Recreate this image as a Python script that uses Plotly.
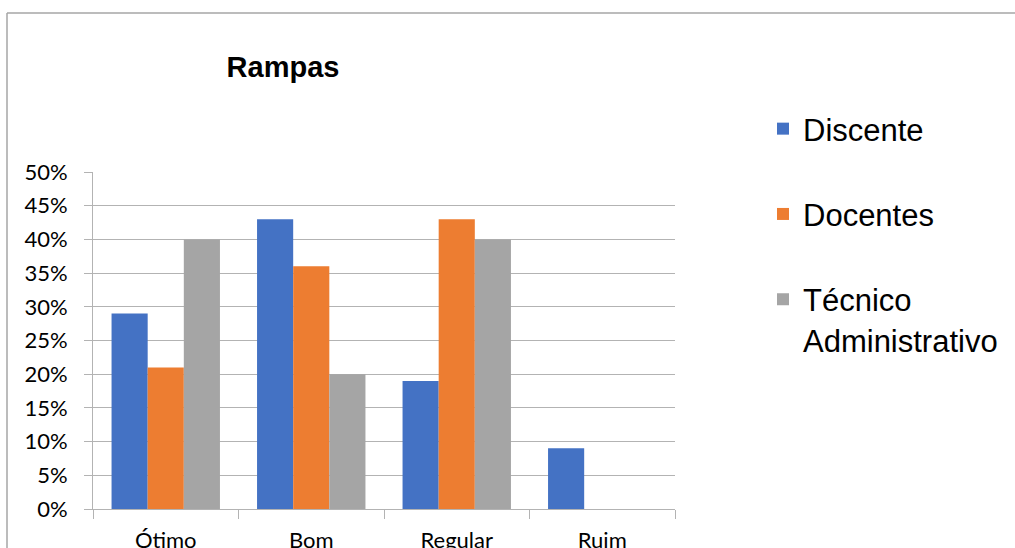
import plotly.graph_objects as go

categories = ['Ótimo', 'Bom', 'Regular', 'Ruim']
discente = [0.29, 0.43, 0.19, 0.09]
docentes = [0.21, 0.36, 0.43, 0.0]
tecnico = [0.40, 0.20, 0.40, 0.0]

series = [
    ('Discente', discente, '#4472C4'),
    ('Docentes', docentes, '#ED7D31'),
    ('Técnico<br>Administrativo', tecnico, '#A5A5A5'),
]

fig = go.Figure()
for i, (name, vals, color) in enumerate(series):
    fig.add_trace(go.Bar(
        x=categories,
        y=vals,
        name=name,
        legendgroup=str(i),
        marker=dict(color=color, line=dict(width=0)),
    ))

tick_font = dict(family='Lato, Open Sans, sans-serif', size=22, color='#000000')

fig.update_layout(
    width=1015,
    height=548,
    paper_bgcolor='white',
    plot_bgcolor='white',
    barmode='group',
    bargap=0.255,
    bargroupgap=0,
    margin=dict(l=93, r=340, t=172, b=39, autoexpand=False),
    title=dict(
        text='<b>Rampas</b>',
        x=283 / 1015, xref='container', xanchor='center',
        y=1 - 67 / 548, yref='container', yanchor='middle',
        font=dict(family='Liberation Sans, Arial, sans-serif', size=29, color='#000000'),
    ),
    legend=dict(
        x=763 / 1015, xref='container', xanchor='left',
        y=1 - 102 / 548, yref='container', yanchor='top',
        font=dict(family='Liberation Sans, Arial, sans-serif', size=31, color='#000000'),
        tracegroupgap=42,
        valign='top',
        itemwidth=30,
        maxheight=600,
    ),
    showlegend=True,
)

fig.update_yaxes(
    range=[0, 0.5],
    dtick=0.05,
    tickformat='.0%',
    showgrid=True,
    gridcolor='#B3B3B3',
    gridwidth=1,
    showline=True,
    linecolor='#B3B3B3',
    ticks='outside',
    ticklen=8,
    tickcolor='#B3B3B3',
    ticklabelstandoff=12,
    tickfont=tick_font,
    zeroline=False,
)

fig.update_xaxes(
    showline=True,
    linecolor='#B3B3B3',
    ticks='outside',
    tickson='boundaries',
    ticklen=9,
    tickcolor='#B3B3B3',
    tickfont=tick_font,
    ticklabelstandoff=12,
)

# chart frame (only top and left edges are visible in the crop)
frame_left = (7 - 93) / 582
frame_top = (509 - 13) / 337
frame_right = 3.0
frame_line = dict(color='#A6A6A6', width=1.5)
fig.add_shape(type='line', xref='paper', yref='paper',
              x0=frame_left, x1=frame_left, y0=-0.2, y1=frame_top,
              line=frame_line, layer='below')
fig.add_shape(type='line', xref='paper', yref='paper',
              x0=frame_left, x1=frame_right, y0=frame_top, y1=frame_top,
              line=frame_line, layer='below')

fig.write_html(
    'out.html',
    config={'displayModeBar': False, 'staticPlot': True},
    post_script=("document.body.style.margin='0';"
                 "document.body.style.overflow='hidden';"
                 "document.documentElement.style.overflow='hidden';"),
)
